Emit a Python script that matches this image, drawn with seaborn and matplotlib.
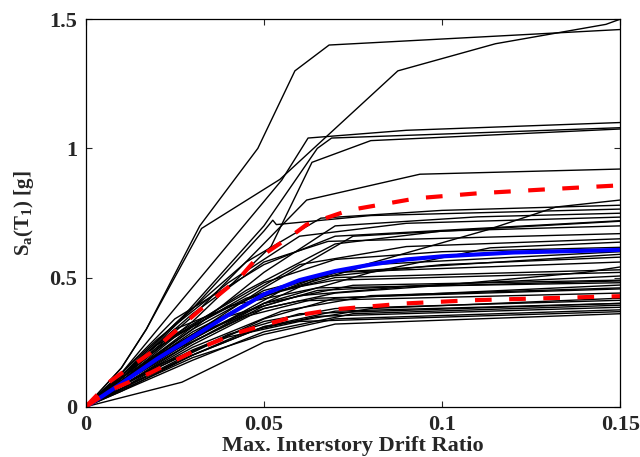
import numpy as np
import pandas as pd
import matplotlib
matplotlib.use("Agg")
import matplotlib.pyplot as plt
import seaborn as sns

# IDA curves: drift (x) and Sa (y) per record
curve_drift = [
    [0, 0.01, 0.017, 0.032, 0.0483, 0.0587, 0.0683, 0.15],
    [0, 0.01, 0.017, 0.0325, 0.0545, 0.0876, 0.115, 0.146, 0.15],
    [0, 0.01, 0.025, 0.055, 0.0624, 0.09, 0.15],
    [0, 0.01, 0.028, 0.05, 0.065, 0.069, 0.15],
    [0, 0.01, 0.03, 0.052, 0.0635, 0.08, 0.15],
    [0, 0.01, 0.03, 0.062, 0.0938, 0.15],
    [0, 0.01, 0.03, 0.05, 0.0657, 0.1126, 0.132, 0.15],
    [0, 0.01, 0.025, 0.045, 0.066, 0.10, 0.15],
    [0, 0.01, 0.03, 0.05, 0.0525, 0.0535, 0.08, 0.15],
    [0, 0.01, 0.03, 0.05, 0.07, 0.11, 0.15],
    [0, 0.01, 0.02, 0.04, 0.06, 0.09, 0.15],
    [0, 0.01, 0.03, 0.05, 0.075, 0.15],
    [0, 0.01, 0.025, 0.045, 0.07, 0.10, 0.15],
    [0, 0.01, 0.03, 0.05, 0.068, 0.15],
    [0, 0.01, 0.03, 0.05, 0.08, 0.1135, 0.15],
    [0, 0.01, 0.025, 0.05, 0.07, 0.10, 0.15],
    [0, 0.01, 0.03, 0.055, 0.08, 0.15],
    [0, 0.01, 0.025, 0.045, 0.065, 0.10, 0.15],
    [0, 0.01, 0.03, 0.05, 0.07, 0.15],
    [0, 0.01, 0.03, 0.05, 0.07, 0.10, 0.14, 0.15],
    [0, 0.01, 0.025, 0.05, 0.07, 0.15],
    [0, 0.01, 0.03, 0.05, 0.065, 0.15],
    [0, 0.01, 0.02, 0.04, 0.06, 0.09, 0.15],
    [0, 0.01, 0.03, 0.05, 0.07, 0.15],
    [0, 0.01, 0.025, 0.045, 0.065, 0.15],
    [0, 0.01, 0.03, 0.05, 0.06, 0.15],
    [0, 0.01, 0.03, 0.05, 0.08, 0.15],
    [0, 0.01, 0.03, 0.05, 0.07, 0.15],
    [0, 0.01, 0.02, 0.04, 0.06, 0.15],
    [0, 0.01, 0.03, 0.05, 0.075, 0.15],
    [0, 0.01, 0.025, 0.045, 0.065, 0.15],
    [0, 0.01, 0.03, 0.05, 0.07, 0.15],
    [0, 0.01, 0.02, 0.04, 0.06, 0.15],
    [0, 0.027, 0.05, 0.07, 0.15],
    [0, 0.01, 0.03, 0.05, 0.07, 0.15],
    [0, 0.01, 0.025, 0.05, 0.075, 0.15],
    [0, 0.01, 0.03, 0.055, 0.08, 0.15],
    [0, 0.01, 0.02, 0.04, 0.065, 0.15],
    [0, 0.01, 0.03, 0.06, 0.09, 0.15],
    [0, 0.01, 0.025, 0.05, 0.07, 0.15],
    [0, 0.01, 0.03, 0.05, 0.07, 0.15],
    [0, 0.01, 0.02, 0.045, 0.07, 0.15],
]
curve_sa = [
    [0, 0.15, 0.30, 0.70, 1.00, 1.30, 1.40, 1.46],
    [0, 0.15, 0.30, 0.69, 0.88, 1.30, 1.405, 1.48, 1.50],
    [0, 0.13, 0.38, 0.877, 1.04, 1.07, 1.10],
    [0, 0.12, 0.36, 0.70, 1.00, 1.04, 1.08],
    [0, 0.11, 0.33, 0.62, 0.946, 1.03, 1.075],
    [0, 0.11, 0.35, 0.80, 0.90, 0.92],
    [0, 0.09, 0.27, 0.40, 0.50, 0.684, 0.773, 0.80],
    [0, 0.12, 0.32, 0.56, 0.73, 0.76, 0.78],
    [0, 0.11, 0.38, 0.68, 0.722, 0.705, 0.74, 0.765],
    [0, 0.10, 0.30, 0.52, 0.70, 0.735, 0.749],
    [0, 0.13, 0.26, 0.48, 0.66, 0.71, 0.734],
    [0, 0.09, 0.28, 0.46, 0.66, 0.718],
    [0, 0.10, 0.27, 0.45, 0.63, 0.68, 0.70],
    [0, 0.12, 0.36, 0.56, 0.64, 0.67],
    [0, 0.08, 0.25, 0.40, 0.52, 0.615, 0.637],
    [0, 0.11, 0.28, 0.48, 0.57, 0.60, 0.617],
    [0, 0.09, 0.26, 0.45, 0.55, 0.60],
    [0, 0.10, 0.24, 0.40, 0.50, 0.55, 0.579],
    [0, 0.11, 0.30, 0.45, 0.52, 0.56],
    [0, 0.08, 0.24, 0.38, 0.44, 0.47, 0.52, 0.541],
    [0, 0.12, 0.30, 0.44, 0.49, 0.52],
    [0, 0.09, 0.25, 0.39, 0.45, 0.506],
    [0, 0.10, 0.20, 0.35, 0.43, 0.465, 0.487],
    [0, 0.07, 0.21, 0.34, 0.42, 0.471],
    [0, 0.09, 0.22, 0.35, 0.42, 0.456],
    [0, 0.10, 0.28, 0.38, 0.41, 0.44],
    [0, 0.06, 0.20, 0.31, 0.38, 0.42],
    [0, 0.08, 0.22, 0.33, 0.38, 0.412],
    [0, 0.07, 0.15, 0.28, 0.36, 0.40],
    [0, 0.06, 0.18, 0.29, 0.36, 0.393],
    [0, 0.07, 0.17, 0.29, 0.35, 0.385],
    [0, 0.065, 0.19, 0.28, 0.34, 0.375],
    [0, 0.08, 0.16, 0.27, 0.33, 0.368],
    [0, 0.095, 0.25, 0.32, 0.36],
    [0, 0.10, 0.29, 0.43, 0.50, 0.53],
    [0, 0.09, 0.23, 0.40, 0.47, 0.49],
    [0, 0.08, 0.23, 0.37, 0.43, 0.46],
    [0, 0.11, 0.23, 0.39, 0.46, 0.48],
    [0, 0.10, 0.31, 0.55, 0.62, 0.65],
    [0, 0.13, 0.34, 0.55, 0.66, 0.72],
    [0, 0.07, 0.20, 0.31, 0.37, 0.40],
    [0, 0.12, 0.24, 0.42, 0.52, 0.59],
]

# median and 16/84 percentile curves
median_drift = [0, 0.004, 0.01, 0.02, 0.03, 0.04, 0.05, 0.06, 0.07, 0.08, 0.09, 0.10, 0.12, 0.15]
median_sa = [0, 0.035, 0.09, 0.185, 0.27, 0.355, 0.435, 0.49, 0.525, 0.55, 0.57, 0.582, 0.597, 0.607]
p84_drift = [0, 0.007, 0.018, 0.032, 0.0433, 0.0475, 0.058, 0.062, 0.074, 0.093, 0.11, 0.13, 0.15]
p84_sa = [0, 0.10, 0.207, 0.374, 0.50, 0.567, 0.664, 0.705, 0.761, 0.807, 0.826, 0.842, 0.857]
p16_drift = [0, 0.007, 0.018, 0.032, 0.043, 0.06, 0.07, 0.09, 0.108, 0.15]
p16_sa = [0, 0.065, 0.13, 0.227, 0.288, 0.355, 0.377, 0.40, 0.412, 0.428]

x_ticks = [0, 0.05, 0.1, 0.15]
x_ticklabels = ["0", "0.05", "0.1", "0.15"]
y_ticks = [0, 0.5, 1, 1.5]
y_ticklabels = ["0", "0.5", "1", "1.5"]

rows = []
for i, (xs, ys) in enumerate(zip(curve_drift, curve_sa)):
    for x, y in zip(xs, ys):
        rows.append((i, x, y))
df = pd.DataFrame(rows, columns=["record", "drift", "sa"])

sns.set_style("ticks")
plt.rcParams["font.family"] = ["Liberation Serif", "DejaVu Serif"]
plt.rcParams["font.weight"] = "bold"
plt.rcParams["mathtext.fontset"] = "custom"
plt.rcParams["mathtext.rm"] = "Liberation Serif:bold"

fig = plt.figure(figsize=(6.4, 4.57), dpi=100)
ax = fig.add_axes([0.134, 0.110, 0.835, 0.848])

sns.lineplot(data=df, x="drift", y="sa", units="record", estimator=None,
             color="black", lw=1.0, sort=False, ax=ax)
sns.lineplot(x=median_drift, y=median_sa, color="blue", lw=3, ax=ax)
sns.lineplot(x=p84_drift, y=p84_sa, color="red", lw=3,
             linestyle=(0, (4, 4.2)), ax=ax)
sns.lineplot(x=p16_drift, y=p16_sa, color="red", lw=3,
             linestyle=(0, (4, 4.2)), ax=ax)

ax.set_xlim(0, 0.15)
ax.set_ylim(0, 1.5)
ax.set_xticks(x_ticks)
ax.set_xticklabels(x_ticklabels)
ax.set_yticks(y_ticks)
ax.set_yticklabels(y_ticklabels)
ax.tick_params(direction="in", top=True, right=True, length=4.3, width=0.8,
               labelsize=16, pad=6)
for lab in ax.get_xticklabels() + ax.get_yticklabels():
    lab.set_fontweight("bold")
for s in ax.spines.values():
    s.set_linewidth(0.9)
    s.set_color("black")

ax.set_xlabel("Max. Interstory Drift Ratio", fontsize=16, fontweight="bold", labelpad=1)
ax.set_ylabel(r"S$_{\mathrm{a}}$(T$_{\mathrm{1}}$) [g]", fontsize=15,
              fontweight="bold", labelpad=10)

fig.savefig("out.png", dpi=100)
